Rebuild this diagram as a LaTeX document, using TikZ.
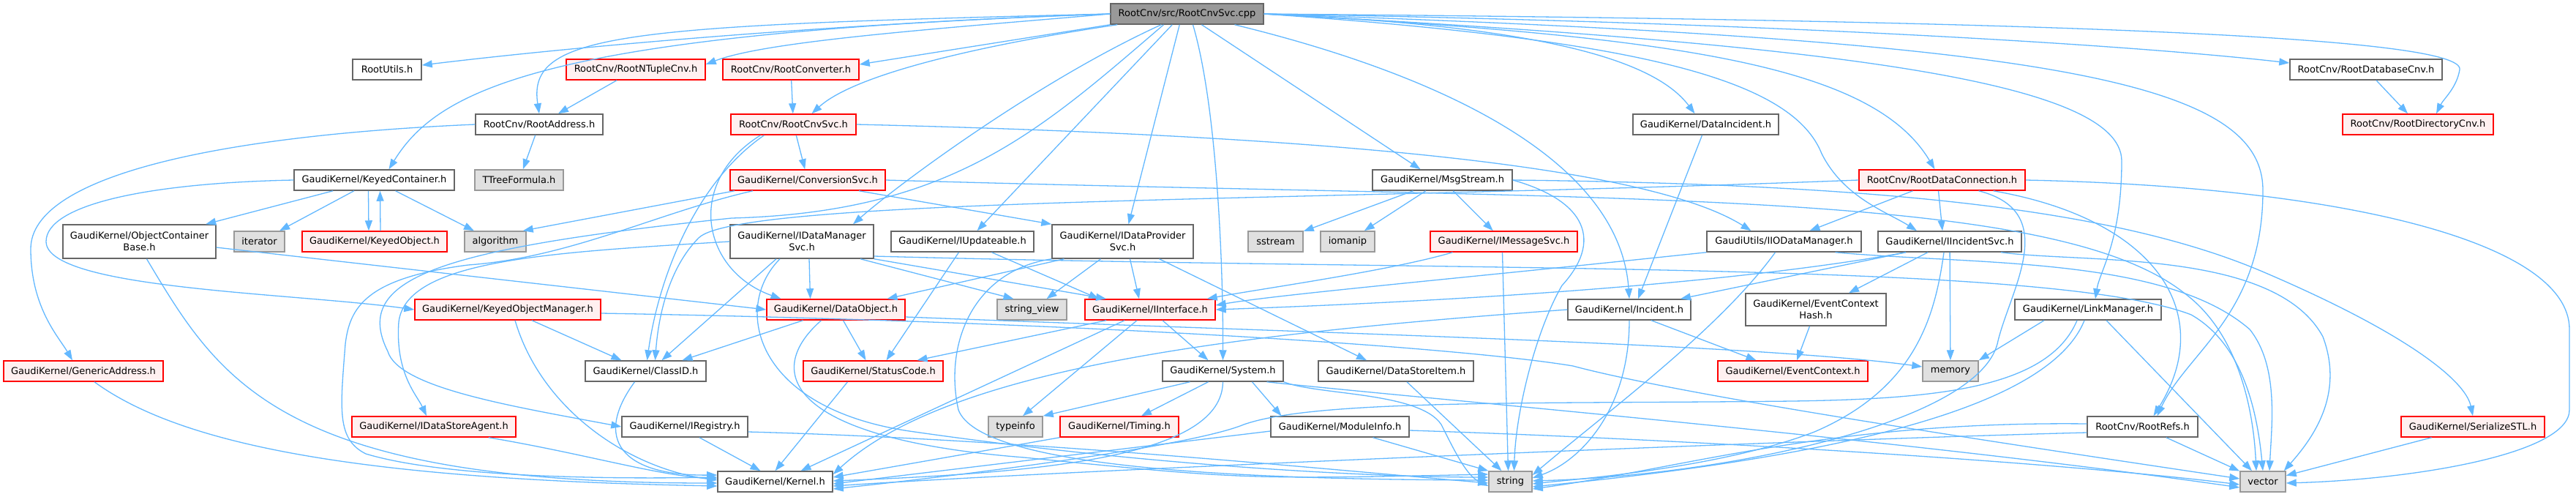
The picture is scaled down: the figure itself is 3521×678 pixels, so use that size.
\documentclass[tikz,border=0pt]{standalone}
\usepackage{fontspec}
\setmainfont{DejaVu Sans}
\usetikzlibrary{arrows.meta}
\definecolor{depblue}{HTML}{63B8FF}
\definecolor{hdrline}{HTML}{666666}
\definecolor{redline}{HTML}{FF0000}
\definecolor{redfill}{HTML}{FFF0F0}
\definecolor{sysline}{HTML}{999999}
\definecolor{sysfill}{HTML}{E0E0E0}
\definecolor{srcfill}{HTML}{999999}
\tikzset{
  hdr/.style={draw=hdrline,fill=white,line width=1.5pt,inner sep=0pt,minimum height=28pt,align=center,font=\fontsize{13}{16}\selectfont},
  redhdr/.style={hdr,draw=redline,fill=redfill},
  syshdr/.style={hdr,draw=sysline,fill=sysfill},
  srchdr/.style={hdr,fill=srcfill},
  dep/.style={draw=depblue,line width=1.3pt,-{Triangle[length=14pt,width=10pt]}},
}
\begin{document}
\begin{tikzpicture}[x=1pt,y=-1pt]
\useasboundingbox (0,0) rectangle (3521,678);
% rank 0 and 1
\node[srchdr,minimum width=209] (cpp) at (1622.5,19) {RootCnv/src/RootCnvSvc.cpp};
\node[hdr,minimum width=94] (utils) at (529,95) {RootUtils.h};
\node[redhdr,minimum width=190] (ntuple) at (869,95) {RootCnv/RootNTupleCnv.h};
\node[redhdr,minimum width=186] (conv) at (1081,95) {RootCnv/RootConverter.h};
\node[hdr,minimum width=208] (dbcnv) at (3234,95) {RootCnv/RootDatabaseCnv.h};
% rank 2
\node[hdr,minimum width=174] (addr) at (737,170) {RootCnv/RootAddress.h};
\node[redhdr,minimum width=171] (rcs) at (1084.5,170) {RootCnv/RootCnvSvc.h};
\node[hdr,minimum width=199] (dinc) at (2331.5,170) {GaudiKernel/DataIncident.h};
\node[redhdr,minimum width=206] (dircnv) at (3305,170) {RootCnv/RootDirectoryCnv.h};
% rank 3
\node[hdr,minimum width=219] (kcont) at (511.5,246) {GaudiKernel/KeyedContainer.h};
\node[syshdr,minimum width=121] (ttree) at (709.5,246) {TTreeFormula.h};
\node[redhdr,minimum width=212] (csvc) at (1104,246) {GaudiKernel/ConversionSvc.h};
\node[hdr,minimum width=191] (msg) at (1971.5,246) {GaudiKernel/MsgStream.h};
\node[redhdr,minimum width=227] (rdc) at (2654.5,246) {RootCnv/RootDataConnection.h};
% rank 4
\node[hdr,minimum width=209,minimum height=46] (ocb) at (190.5,330) {GaudiKernel/ObjectContainer\\Base.h};
\node[syshdr,minimum width=69] (iter) at (354.5,330) {iterator};
\node[redhdr,minimum width=198] (kobj) at (512,330) {GaudiKernel/KeyedObject.h};
\node[syshdr,minimum width=84] (algo) at (677,330) {algorithm};
\node[hdr,minimum width=196,minimum height=46] (idms) at (1096,330) {GaudiKernel/IDataManager\\Svc.h};
\node[hdr,minimum width=195] (iupd) at (1315.5,330) {GaudiKernel/IUpdateable.h};
\node[hdr,minimum width=193,minimum height=46] (idps) at (1534.5,330) {GaudiKernel/IDataProvider\\Svc.h};
\node[syshdr,minimum width=75] (sstream) at (1743.5,330) {sstream};
\node[syshdr,minimum width=74] (iomanip) at (1842,330) {iomanip};
\node[redhdr,minimum width=201] (imsg) at (2055.5,330) {GaudiKernel/IMessageSvc.h};
\node[hdr,minimum width=211] (iodm) at (2438.5,330) {GaudiUtils/IIODataManager.h};
\node[hdr,minimum width=196] (iinc) at (2665,330) {GaudiKernel/IIncidentSvc.h};
% rank 5
\node[redhdr,minimum width=254] (kom) at (694,423) {GaudiKernel/KeyedObjectManager.h};
\node[redhdr,minimum width=189] (dobj) at (1142.5,423) {GaudiKernel/DataObject.h};
\node[syshdr,minimum width=95] (sview) at (1410.5,423) {string\_view};
\node[redhdr,minimum width=178] (iintf) at (1572,423) {GaudiKernel/IInterface.h};
\node[hdr,minimum width=168] (incident) at (2227,423) {GaudiKernel/Incident.h};
\node[hdr,minimum width=192,minimum height=44] (ech) at (2482,423) {GaudiKernel/EventContext\\Hash.h};
\node[hdr,minimum width=200] (link) at (2854,423) {GaudiKernel/LinkManager.h};
% rank 6
\node[redhdr,minimum width=218] (gaddr) at (114,507) {GaudiKernel/GenericAddress.h};
\node[hdr,minimum width=165] (classid) at (882.5,507) {GaudiKernel/ClassID.h};
\node[redhdr,minimum width=191] (statusc) at (1193.5,507) {GaudiKernel/StatusCode.h};
\node[hdr,minimum width=165] (system) at (1671.5,507) {GaudiKernel/System.h};
\node[hdr,minimum width=212] (dsitem) at (1908,507) {GaudiKernel/DataStoreItem.h};
\node[redhdr,minimum width=205] (evctx) at (2450.5,507) {GaudiKernel/EventContext.h};
\node[syshdr,minimum width=76] (memory) at (2666,507) {memory};
% rank 7
\node[redhdr,minimum width=224] (idsa) at (593,583) {GaudiKernel/IDataStoreAgent.h};
\node[hdr,minimum width=172] (ireg) at (936,583) {GaudiKernel/IRegistry.h};
\node[syshdr,minimum width=74] (typeinfo) at (1388,583) {typeinfo};
\node[redhdr,minimum width=162] (timing) at (1530,583) {GaudiKernel/Timing.h};
\node[hdr,minimum width=189] (modinfo) at (1831.5,583) {GaudiKernel/ModuleInfo.h};
\node[hdr,minimum width=151] (refs) at (2928.5,583) {RootCnv/RootRefs.h};
\node[redhdr,minimum width=196] (serial) at (3380,583) {GaudiKernel/SerializeSTL.h};
% rank 8
\node[hdr,minimum width=157] (kernel) at (1059.5,658) {GaudiKernel/Kernel.h};
\node[syshdr,minimum width=59] (string) at (2064.5,658) {string};
\node[syshdr,minimum width=62] (vector) at (3093,658) {vector};
% includes of the source file
\draw[dep] (cpp.west) .. controls (1150,32) and (800,62) .. ([yshift=6pt]utils.east);
\draw[dep] (cpp.west) .. controls (1300,38) and (1050,55) .. ([yshift=7pt]ntuple.east);
\draw[dep] (cpp.south west) -- ([yshift=7pt]conv.east);
\draw[dep] (cpp.west) .. controls (850,35) and (720,45) .. (addr.north);
\draw[dep] (cpp.west) .. controls (750,45) and (600,120) .. ([xshift=20pt]kcont.north);
\draw[dep] ([xshift=10pt]cpp.south west) .. controls (1350,60) and (1170,100) .. ([xshift=25pt]rcs.north);
\draw[dep] ([xshift=70pt]cpp.south west) .. controls (1420,110) and (1230,250) .. ([xshift=70pt]idms.north);
\draw[dep] ([xshift=85pt]cpp.south west) -- ([xshift=20pt]iupd.north);
\draw[dep] ([xshift=95pt]cpp.south west) -- ([xshift=8pt]idps.north);
\draw[dep] ([xshift=8pt]cpp.south) .. controls (1665,150) and (1672,380) .. (system.north);
\draw[dep] ([xshift=20pt]cpp.south) -- ([xshift=-30pt]msg.north);
\draw[dep] ([xshift=65pt]cpp.south) .. controls (2000,110) and (2215,230) .. (incident.north);
\draw[dep] (cpp.east) .. controls (2100,35) and (2260,80) .. ([xshift=-15pt]dinc.north);
\draw[dep] (cpp.east) .. controls (2250,55) and (2450,110) .. (2490,210) .. controls (2520,270) and (2580,290) .. ([xshift=-45pt]iinc.north);
\draw[dep] (cpp.east) .. controls (2300,50) and (2560,90) .. ([xshift=-10pt]rdc.north);
\draw[dep] (cpp.east) .. controls (2400,30) and (2900,60) .. ([yshift=9pt]dbcnv.west);
\draw[dep] (cpp.east) .. controls (2800,28) and (3368,50) .. (3362,95) .. controls (3358,120) and (3340,135) .. ([xshift=25pt]dircnv.north);
\draw[dep] (cpp.east) .. controls (2800,55) and (3093,110) .. (3093,260) .. controls (3093,430) and (2990,480) .. ([xshift=20pt]refs.north);
\draw[dep] (cpp.east) .. controls (2500,60) and (2900,110) .. (2900,220) .. controls (2900,330) and (2870,370) .. ([xshift=10pt]link.north);
\draw[dep] ([xshift=-32pt]cpp.south) .. controls (1420,180) and (1300,290) .. (1000,298) .. controls (600,340) and (480,380) .. (530,480) .. controls (545,530) and (700,555) .. (ireg.west);
% second level
\draw[dep] (ntuple) -- (addr);
\draw[dep] (conv) -- (rcs);
\draw[dep] (dbcnv) -- (dircnv);
\draw[dep] (addr) -- (ttree);
\draw[dep] (addr.west) .. controls (300,185) and (42,240) .. (42,340) .. controls (42,420) and (80,460) .. ([xshift=-15pt]gaddr.north);
\draw[dep] (kcont.west) .. controls (200,250) and (63,280) .. (63,330) .. controls (63,395) and (400,400) .. (kom.west);
\draw[dep] (kcont) -- (ocb);
\draw[dep] (kcont) -- (iter);
\draw[dep] ([xshift=-8pt]kcont.south) -- ([xshift=-8pt]kobj.north);
\draw[dep] ([xshift=8pt]kobj.north) -- ([xshift=8pt]kcont.south);
\draw[dep] (kcont) -- (algo);
\draw[dep] (rcs) -- (csvc);
\draw[dep] (rcs.east) .. controls (1800,185) and (2250,225) .. ([xshift=-45pt]iodm.north);
\draw[dep] ([xshift=-40pt]rcs.south) .. controls (950,250) and (900,380) .. ([xshift=2pt]classid.north);
\draw[dep] ([xshift=-45pt]rcs.south) .. controls (935,250) and (960,370) .. ([xshift=-75pt]dobj.north);
\draw[dep] ([xshift=-5pt]dinc.south) -- ([xshift=12pt]incident.north);
\draw[dep] ([xshift=-100pt]csvc.south) -- ([xshift=-5pt]algo.north east);
\draw[dep] ([xshift=70pt]csvc.south) -- (idps.north west);
\draw[dep] ([xshift=-75pt]csvc.south) .. controls (900,290) and (780,352) .. (640,362) .. controls (500,380) and (478,420) .. (472,470) .. controls (465,560) and (460,600) .. (500,620) .. controls (600,650) and (800,655) .. ([yshift=6pt]kernel.west);
\draw[dep] (csvc.east) .. controls (2200,275) and (2800,255) .. (2985,400) .. controls (3060,455) and (3080,560) .. ([xshift=-9pt]vector.north);
\draw[dep] (msg) -- (sstream);
\draw[dep] (msg) -- (iomanip);
\draw[dep] (msg) -- (imsg);
\draw[dep] (msg.east) .. controls (2170,275) and (2190,330) .. (2135,390) .. controls (2100,450) and (2072,560) .. ([xshift=5pt]string.north);
\draw[dep] (msg.east) .. controls (2600,252) and (2900,290) .. (3090,370) .. controls (3290,455) and (3370,520) .. (serial.north);
\draw[dep] ([xshift=-40pt]rdc.south) -- ([xshift=35pt]iodm.north);
\draw[dep] ([xshift=-5pt]rdc.south) -- ([xshift=-10pt]iinc.north);
\draw[dep] (rdc.west) .. controls (1800,275) and (1010,270) .. (955,325) .. controls (915,365) and (900,430) .. ([xshift=13pt]classid.north);
\draw[dep] ([xshift=50pt]rdc.south) .. controls (2820,290) and (2745,400) .. (2730,470) .. controls (2700,580) and (2350,650) .. ([yshift=1pt]string.east);
\draw[dep] ([xshift=70pt]rdc.south) .. controls (2950,300) and (3030,430) .. ([xshift=15pt]refs.north);
\draw[dep] (rdc.east) .. controls (3200,255) and (3512,330) .. (3512,450) -- (3512,560) .. controls (3512,620) and (3300,655) .. ([yshift=-2pt]vector.east);
% interfaces
\draw[dep] ([xshift=-35pt]idms.south) -- ([xshift=22pt]classid.north);
\draw[dep] ([xshift=10pt]idms.south) -- ([xshift=-35pt]dobj.north);
\draw[dep] ([xshift=80pt]idms.south) -- ([xshift=-25pt]sview.north);
\draw[dep] (idms.south east) -- ([xshift=-60pt]iintf.north);
\draw[dep] (idms.west) .. controls (750,345) and (555,355) .. (545,440) .. controls (540,510) and (570,540) .. ([xshift=-10pt]idsa.north);
\draw[dep] ([xshift=-30pt]idms.south) .. controls (1000,420) and (1030,560) .. (1250,590) .. controls (1600,640) and (1900,652) .. ([yshift=6pt]string.west);
\draw[dep] ([yshift=-20pt]idms.east) .. controls (2000,372) and (2800,355) .. (2995,430) .. controls (3065,470) and (3085,560) .. (vector.north);
\draw[dep] ([xshift=-5pt]iupd.south) -- ([xshift=18pt]statusc.north);
\draw[dep] ([xshift=40pt]iupd.south) -- ([xshift=-70pt]iintf.north);
\draw[dep] ([xshift=-80pt]idps.south) -- ([xshift=70pt]dobj.north);
\draw[dep] ([xshift=-30pt]idps.south) -- ([xshift=20pt]sview.north);
\draw[dep] ([xshift=10pt]idps.south) -- ([xshift=-15pt]iintf.north);
\draw[dep] ([xshift=50pt]idps.south) -- ([xshift=-40pt]dsitem.north);
\draw[dep] (idps.south west) .. controls (1330,370) and (1290,470) .. (1310,560) .. controls (1340,640) and (1700,655) .. ([yshift=2pt]string.west);
\draw[dep] ([xshift=-70pt]imsg.south) .. controls (1900,370) and (1720,395) .. ([xshift=-12pt]iintf.north east);
\draw[dep] ([xshift=-2pt]imsg.south) -- ([xshift=-3pt]string.north);
\draw[dep] (iodm.south west) .. controls (2000,380) and (1750,402) .. ([yshift=6pt]iintf.east);
\draw[dep] ([xshift=-12pt]iodm.south) .. controls (2350,450) and (2200,560) .. ([yshift=9pt]string.east);
\draw[dep] ([xshift=70pt]iodm.south) .. controls (2700,362) and (2960,350) .. (3075,450) .. controls (3115,500) and (3105,580) .. ([xshift=9pt]vector.north);
\draw[dep] ([xshift=-60pt]iinc.south) .. controls (2300,400) and (1800,418) .. (iintf.east);
\draw[dep] ([xshift=-60pt]iinc.south) -- ([xshift=70pt]incident.north);
\draw[dep] ([xshift=-30pt]iinc.south) -- ([xshift=45pt]ech.north);
\draw[dep] (iinc) -- (memory);
\draw[dep] ([xshift=-8pt]iinc.south) .. controls (2645,430) and (2620,530) .. (2480,590) .. controls (2350,640) and (2150,655) .. ([yshift=-3pt]string.east);
\draw[dep] ([xshift=70pt]iinc.south) .. controls (2850,360) and (3110,340) .. (3175,460) .. controls (3205,540) and (3160,600) .. ([xshift=-3pt]vector.north east);
% object model
\draw[dep] ([yshift=-8pt]ocb.east) -- (dobj.west);
\draw[dep] ([xshift=10pt]ocb.south) .. controls (300,520) and (380,660) .. ([yshift=-2pt]kernel.west);
\draw[dep] (kom) -- (classid);
\draw[dep] ([xshift=10pt]kom.south) .. controls (740,560) and (860,640) .. ([yshift=2pt]kernel.west);
\draw[dep] ([yshift=-5pt]kom.east) .. controls (1500,440) and (2000,475) .. (2150,500) .. controls (2300,540) and (2700,600) .. ([yshift=4pt]vector.west);
\draw[dep] ([xshift=-45pt]dobj.south) -- ([xshift=50pt]classid.north);
\draw[dep] ([xshift=10pt]dobj.south) -- ([xshift=-10pt]statusc.north);
\draw[dep] ([xshift=-20pt]dobj.south) .. controls (1040,510) and (1080,600) .. (1400,625) .. controls (1700,655) .. ([yshift=10pt]string.west);
\draw[dep] ([yshift=-10pt]dobj.east) .. controls (1800,455) and (2400,470) .. ([yshift=6pt]memory.west);
\draw[dep] ([xshift=-60pt]iintf.south) -- ([xshift=60pt]statusc.north);
\draw[dep] ([xshift=-35pt]iintf.south) -- ([xshift=35pt]kernel.north);
\draw[dep] ([xshift=-18pt]iintf.south) -- ([xshift=10pt]typeinfo.north);
\draw[dep] ([xshift=17pt]iintf.south) -- ([xshift=-20pt]system.north);
\draw[dep] ([xshift=30pt]incident.south) -- ([xshift=-50pt]evctx.north);
\draw[dep] (incident.south) .. controls (2227,560) and (2160,630) .. ([yshift=5pt]string.east);
\draw[dep] (incident.west) .. controls (1700,455) and (1300,500) .. ([yshift=10pt]kernel.east);
\draw[dep] (ech) -- (evctx);
\draw[dep] ([xshift=-60pt]link.south) -- (memory.north east);
\draw[dep] ([xshift=-5pt]link.south) .. controls (2800,560) and (2500,625) .. ([yshift=-7pt]string.east);
\draw[dep] ([xshift=25pt]link.south) -- ([xshift=-15pt]vector.north);
\draw[dep] ([xshift=-15pt]link.south) .. controls (2800,530) and (2650,545) .. (2450,548) .. controls (2100,552) and (1800,545) .. (1700,580) .. controls (1640,605) and (1400,640) .. ([yshift=-10pt]kernel.east);
% down to the kernel
\draw[dep] ([xshift=15pt]gaddr.south) .. controls (250,610) and (500,655) .. ([yshift=-6pt]kernel.west);
\draw[dep] ([xshift=-15pt]classid.south) .. controls (810,600) and (850,650) .. ([yshift=9pt]kernel.west);
\draw[dep] ([xshift=-35pt]statusc.south) -- (kernel.north);
\draw[dep] ([xshift=-45pt]system.south) -- (typeinfo.north east);
\draw[dep] ([xshift=-20pt]system.south) -- ([xshift=30pt]timing.north);
\draw[dep] ([xshift=40pt]system.south) -- ([xshift=-80pt]modinfo.north);
\draw[dep] (system.south) .. controls (1670,620) and (1450,645) .. ([yshift=1pt]kernel.east);
\draw[dep] (system.south east) .. controls (1800,540) and (1940,535) .. (1970,580) .. controls (1990,620) and (2005,650) .. ([yshift=-6pt]string.west);
\draw[dep] ([xshift=60pt]system.south) .. controls (1950,545) and (2600,600) .. ([yshift=-8pt]vector.west);
\draw[dep] ([xshift=15pt]dsitem.south) -- ([xshift=-12pt]string.north);
\draw[dep] ([xshift=75pt]idsa.south) .. controls (800,620) and (900,650) .. ([yshift=4pt]kernel.west);
\draw[dep] ([xshift=20pt]ireg.south) -- ([xshift=-20pt]kernel.north);
\draw[dep] ([yshift=-7pt]ireg.east) .. controls (1400,600) and (1800,640) .. ([yshift=-2pt]string.west);
\draw[dep] (timing.south west) -- ([yshift=6pt]kernel.east);
\draw[dep] ([yshift=-6pt]modinfo.west) -- ([yshift=-3pt]kernel.east);
\draw[dep] ([xshift=45pt]modinfo.south) -- (string.north west);
\draw[dep] ([yshift=-5pt]modinfo.east) .. controls (2300,600) and (2800,630) .. ([yshift=-4pt]vector.west);
\draw[dep] ([yshift=4pt]refs.west) .. controls (2500,575) and (2300,640) .. ([yshift=-10pt]string.east);
\draw[dep] ([yshift=-8pt]refs.west) .. controls (2500,600) and (1500,640) .. ([yshift=-6pt]kernel.east);
\draw[dep] (refs) -- (vector);
\draw[dep] (serial) -- (vector);
\end{tikzpicture}
\end{document}
